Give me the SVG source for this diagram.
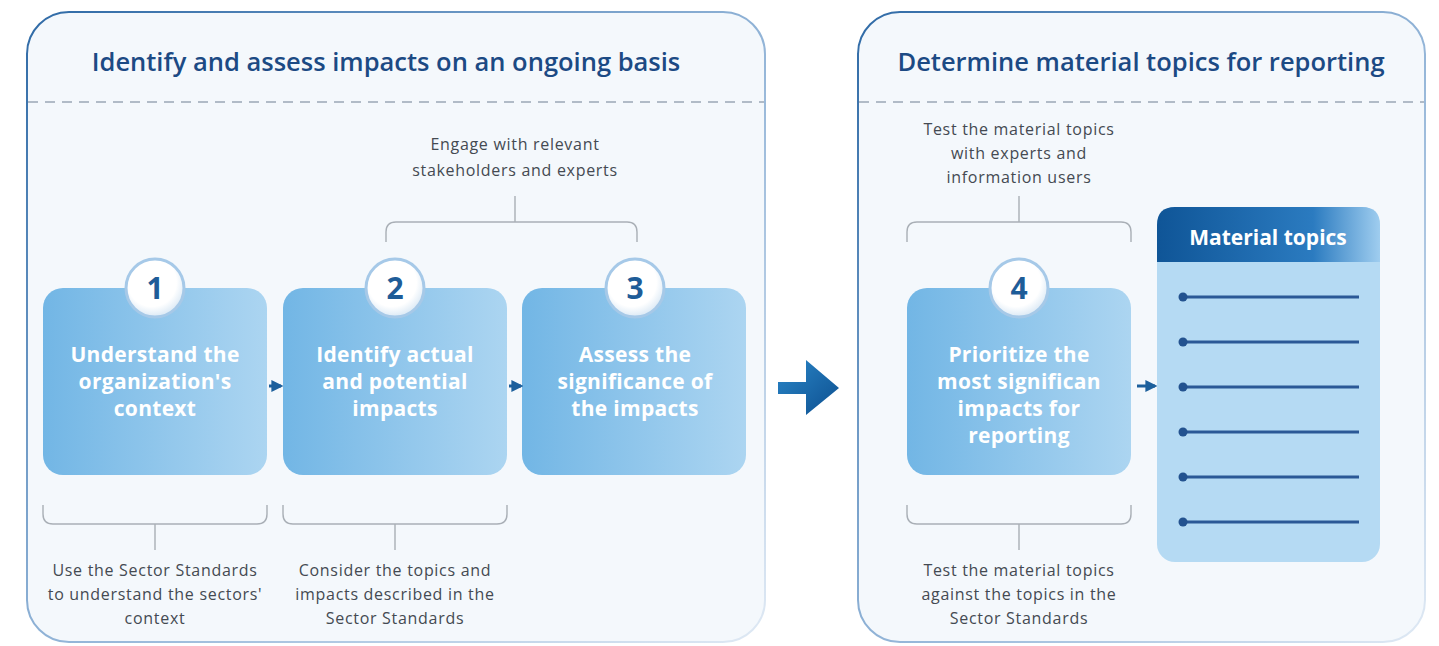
<svg xmlns="http://www.w3.org/2000/svg" width="1439" height="646" viewBox="0 0 1439 646">
<defs>
<linearGradient id="panelStroke" x1="0" y1="0" x2="1" y2="1">
<stop offset="0" stop-color="#2f6aa6"/>
<stop offset="0.5" stop-color="#8fb2d6"/>
<stop offset="1" stop-color="#dfe9f4"/>
</linearGradient>
<linearGradient id="boxFill" x1="0" y1="0" x2="1" y2="0">
<stop offset="0" stop-color="#72b6e5"/>
<stop offset="1" stop-color="#acd5f1"/>
</linearGradient>
<linearGradient id="hdrFill" x1="0" y1="0" x2="1" y2="0">
<stop offset="0" stop-color="#0f5597"/>
<stop offset="0.7" stop-color="#2b7bc0"/>
<stop offset="1" stop-color="#9fcdef"/>
</linearGradient>
<linearGradient id="bigArrow" x1="0" y1="0" x2="1" y2="1">
<stop offset="0" stop-color="#2a86c8"/>
<stop offset="1" stop-color="#0d4f8f"/>
</linearGradient>
<radialGradient id="circFill" cx="0.45" cy="0.4" r="0.6">
<stop offset="0.7" stop-color="#ffffff"/>
<stop offset="1" stop-color="#dbe9f5"/>
</radialGradient>
<marker id="ah" viewBox="0 0 10 10" refX="8" refY="5" markerWidth="4" markerHeight="4" orient="auto">
<path d="M0,0 L10,5 L0,10 z" fill="#1c5f9c"/>
</marker>
</defs>
<style>
.panel{fill:#f4f8fc;stroke:url(#panelStroke);stroke-width:2}
.dash{stroke:#9aa7b5;stroke-width:1.5;stroke-dasharray:10 7;fill:none}
.title{font-family:"Open Sans","Noto Sans",sans-serif;font-weight:600;font-size:25.5px;fill:#1c4a84;text-anchor:middle}
.box{fill:url(#boxFill)}
.btxt{font-family:"Open Sans","Noto Sans",sans-serif;font-weight:700;font-size:21px;letter-spacing:0.3px;fill:#ffffff;text-anchor:middle}
.note{font-family:"Open Sans","Noto Sans",sans-serif;font-weight:400;font-size:16px;letter-spacing:0.7px;fill:#444a52;text-anchor:middle}
.brk{fill:none;stroke:#a9afb6;stroke-width:1.4}
.circ{fill:url(#circFill);stroke:#a6c9e8;stroke-width:3}
.num{font-family:"Open Sans","Noto Sans",sans-serif;font-weight:700;font-size:30px;fill:#1e5c98;text-anchor:middle}
.conn{stroke:#1c5f9c;stroke-width:3;fill:none;marker-end:url(#ah)}
.topic{stroke:#2b5896;stroke-width:3;fill:none}
.dot{fill:#23528f}
</style>

<g id="panel-left">
<rect class="panel" x="27" y="12" width="738" height="630" rx="42"/>
<text class="title" x="386" y="71">Identify and assess impacts on an ongoing basis</text>
<line class="dash" x1="28" y1="102" x2="764" y2="102"/>
</g>
<g id="panel-right">
<rect class="panel" x="858" y="12" width="567" height="630" rx="42"/>
<text class="title" x="1141" y="71">Determine material topics for reporting</text>
<line class="dash" x1="859" y1="102" x2="1424" y2="102"/>
</g>

<g id="note-engage">
<text class="note" x="515" y="150">Engage with relevant</text>
<text class="note" x="515" y="176">stakeholders and experts</text>
<path class="brk" d="M515,196 V222 M386,242 V232 Q386,222 396,222 H627 Q637,222 637,232 V242"/>
</g>
<g id="note-test-experts">
<text class="note" x="1019" y="135">Test the material topics</text>
<text class="note" x="1019" y="159">with experts and</text>
<text class="note" x="1019" y="183">information users</text>
<path class="brk" d="M1019,196 V222 M907,242 V232 Q907,222 917,222 H1121 Q1131,222 1131,232 V242"/>
</g>

<g id="step1">
<rect class="box" x="43" y="288" width="224" height="187" rx="20"/>
<circle class="circ" cx="155" cy="288" r="29"/>
<text class="num" x="155" y="299">1</text>
<text class="btxt" x="155" y="362">Understand the</text>
<text class="btxt" x="155" y="389">organization's</text>
<text class="btxt" x="155" y="416">context</text>
</g>
<g id="step2">
<rect class="box" x="283" y="288" width="224" height="187" rx="20"/>
<circle class="circ" cx="395" cy="288" r="29"/>
<text class="num" x="395" y="299">2</text>
<text class="btxt" x="395" y="362">Identify actual</text>
<text class="btxt" x="395" y="389">and potential</text>
<text class="btxt" x="395" y="416">impacts</text>
</g>
<g id="step3">
<rect class="box" x="522" y="288" width="224" height="187" rx="20"/>
<circle class="circ" cx="635" cy="288" r="29"/>
<text class="num" x="635" y="299">3</text>
<text class="btxt" x="635" y="362">Assess the</text>
<text class="btxt" x="635" y="389">significance of</text>
<text class="btxt" x="635" y="416">the impacts</text>
</g>
<g id="step4">
<rect class="box" x="907" y="288" width="224" height="187" rx="20"/>
<circle class="circ" cx="1019" cy="288" r="29"/>
<text class="num" x="1019" y="299">4</text>
<text class="btxt" x="1019" y="362">Prioritize the</text>
<text class="btxt" x="1019" y="389">most significan</text>
<text class="btxt" x="1019" y="416">impacts for</text>
<text class="btxt" x="1019" y="443">reporting</text>
</g>

<g id="material-topics">
<rect x="1157" y="207" width="223" height="355" rx="18" fill="#b5daf3"/>
<path d="M1157,262 V225 Q1157,207 1175,207 H1362 Q1380,207 1380,225 V262 Z" fill="url(#hdrFill)"/>
<text x="1268" y="245" font-family="'Open Sans','Noto Sans',sans-serif" font-weight="700" font-size="21" fill="#ffffff" text-anchor="middle">Material topics</text>
<line class="topic" x1="1183" y1="297" x2="1359" y2="297"/><circle class="dot" cx="1183" cy="297" r="4.5"/>
<line class="topic" x1="1183" y1="342" x2="1359" y2="342"/><circle class="dot" cx="1183" cy="342" r="4.5"/>
<line class="topic" x1="1183" y1="387" x2="1359" y2="387"/><circle class="dot" cx="1183" cy="387" r="4.5"/>
<line class="topic" x1="1183" y1="432" x2="1359" y2="432"/><circle class="dot" cx="1183" cy="432" r="4.5"/>
<line class="topic" x1="1183" y1="477" x2="1359" y2="477"/><circle class="dot" cx="1183" cy="477" r="4.5"/>
<line class="topic" x1="1183" y1="522" x2="1359" y2="522"/><circle class="dot" cx="1183" cy="522" r="4.5"/>
</g>

<g id="note-sector-context">
<path class="brk" d="M43,505 V514 Q43,524 53,524 H257 Q267,524 267,514 V505 M155,524 V550"/>
<text class="note" x="155" y="576">Use the Sector Standards</text>
<text class="note" x="155" y="600">to understand the sectors'</text>
<text class="note" x="155" y="624">context</text>
</g>
<g id="note-consider">
<path class="brk" d="M283,505 V514 Q283,524 293,524 H497 Q507,524 507,514 V505 M395,524 V550"/>
<text class="note" x="395" y="576">Consider the topics and</text>
<text class="note" x="395" y="600">impacts described in the</text>
<text class="note" x="395" y="624">Sector Standards</text>
</g>
<g id="note-test-sector">
<path class="brk" d="M907,505 V514 Q907,524 917,524 H1121 Q1131,524 1131,514 V505 M1019,524 V550"/>
<text class="note" x="1019" y="576">Test the material topics</text>
<text class="note" x="1019" y="600">against the topics in the</text>
<text class="note" x="1019" y="624">Sector Standards</text>
</g>

<g id="connectors">
<line class="conn" x1="269" y1="386" x2="281" y2="386"/>
<line class="conn" x1="509" y1="386" x2="521" y2="386"/>
<line class="conn" x1="1137" y1="386" x2="1155" y2="386"/>
<path d="M778,382 H806 V360 L839,388 L806,415 V394 H778 Z" fill="url(#bigArrow)"/>
</g>
</svg>
